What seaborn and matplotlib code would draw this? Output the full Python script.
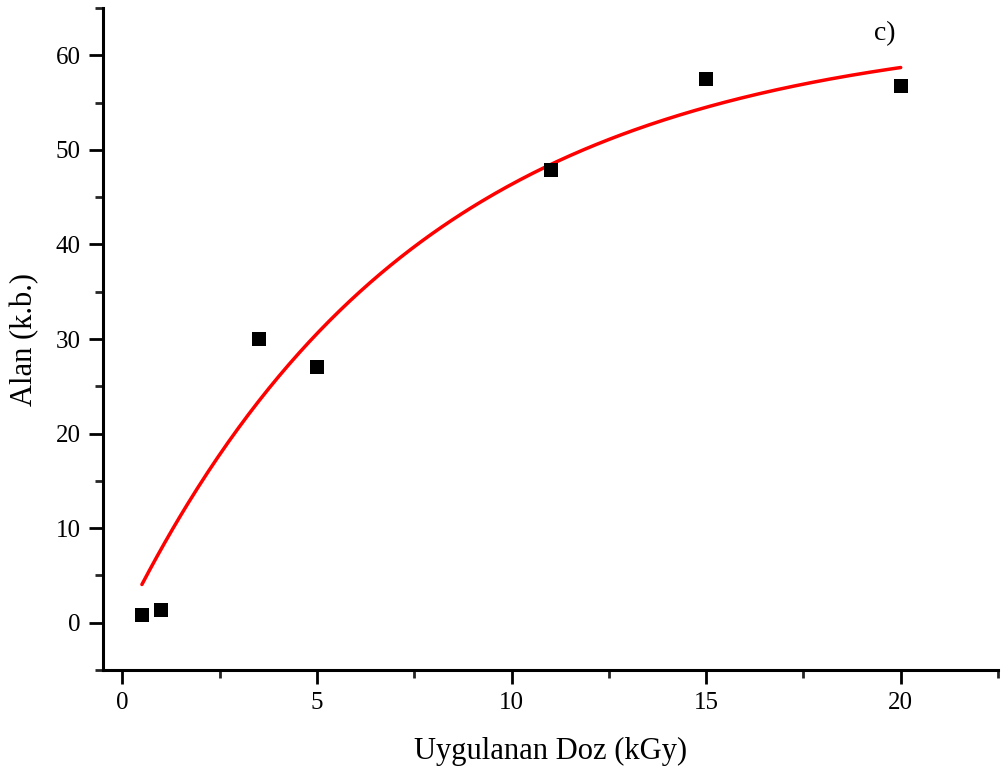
import numpy as np
import pandas as pd
import matplotlib
matplotlib.use("Agg")
import matplotlib.pyplot as plt
from matplotlib.ticker import MultipleLocator
import seaborn as sns

# Data
doz = [0.5, 1.0, 3.5, 5.0, 11.0, 15.0, 20.0]
alan = [0.8, 1.3, 30.0, 27.0, 47.9, 57.5, 56.7]
x_ticks = [0, 5, 10, 15, 20]
y_ticks = [0, 10, 20, 30, 40, 50, 60]
panel_label = "c)"
x_label = "Uygulanan Doz (kGy)"
y_label = "Alan (k.b.)"

df = pd.DataFrame({"doz": doz, "alan": alan})

# Exponential saturation fit y = A*(1 - exp(-x/t)), least squares over t
xd = np.array(doz)
yd = np.array(alan)
best = None
for t in np.linspace(1, 20, 1901):
    g = 1 - np.exp(-xd / t)
    A = np.dot(g, yd) / np.dot(g, g)
    r = np.sum((A * g - yd) ** 2)
    if best is None or r < best[0]:
        best = (r, t, A)
_, t_fit, A_fit = best
xf = np.linspace(min(doz), max(doz), 300)
fit_df = pd.DataFrame({"doz": xf, "alan": A_fit * (1 - np.exp(-xf / t_fit))})

sns.set_style("white")
plt.rcParams["font.family"] = ["Liberation Serif", "DejaVu Serif"]
plt.rcParams["text.color"] = "black"
plt.rcParams["axes.labelcolor"] = "black"

fig = plt.figure(figsize=(10.05, 7.73), dpi=100)
ax = fig.add_axes([103 / 1005, (773 - 670) / 773, (998 - 103) / 1005, (670 - 8) / 773])

sns.lineplot(data=fit_df, x="doz", y="alan", color="#ff0000", linewidth=2.5, ax=ax)
sns.scatterplot(data=df, x="doz", y="alan", marker="s", color="black", s=95,
                edgecolor="black", linewidth=0, ax=ax, zorder=3)

ax.set_xlim(-0.5, 22.5)
ax.set_ylim(-5, 65)
ax.set_xticks(x_ticks)
ax.set_yticks(y_ticks)
ax.xaxis.set_minor_locator(MultipleLocator(2.5))
ax.yaxis.set_minor_locator(MultipleLocator(5))

for s in ["top", "right"]:
    ax.spines[s].set_visible(False)
for s in ["left", "bottom"]:
    ax.spines[s].set_linewidth(2.2)
    ax.spines[s].set_color("black")

ax.tick_params(which="major", direction="out", length=10, width=2, labelsize=18,
               colors="black", bottom=True, left=True, pad=6)
ax.tick_params(which="minor", direction="out", length=6, width=2, bottom=True, left=True)

ax.set_xlabel(x_label, fontsize=22, labelpad=16)
ax.set_ylabel(y_label, fontsize=22, labelpad=12)
ax.text(19.6, 62.3, panel_label, fontsize=20, ha="center", va="center")

fig.savefig("out.png", dpi=100)
